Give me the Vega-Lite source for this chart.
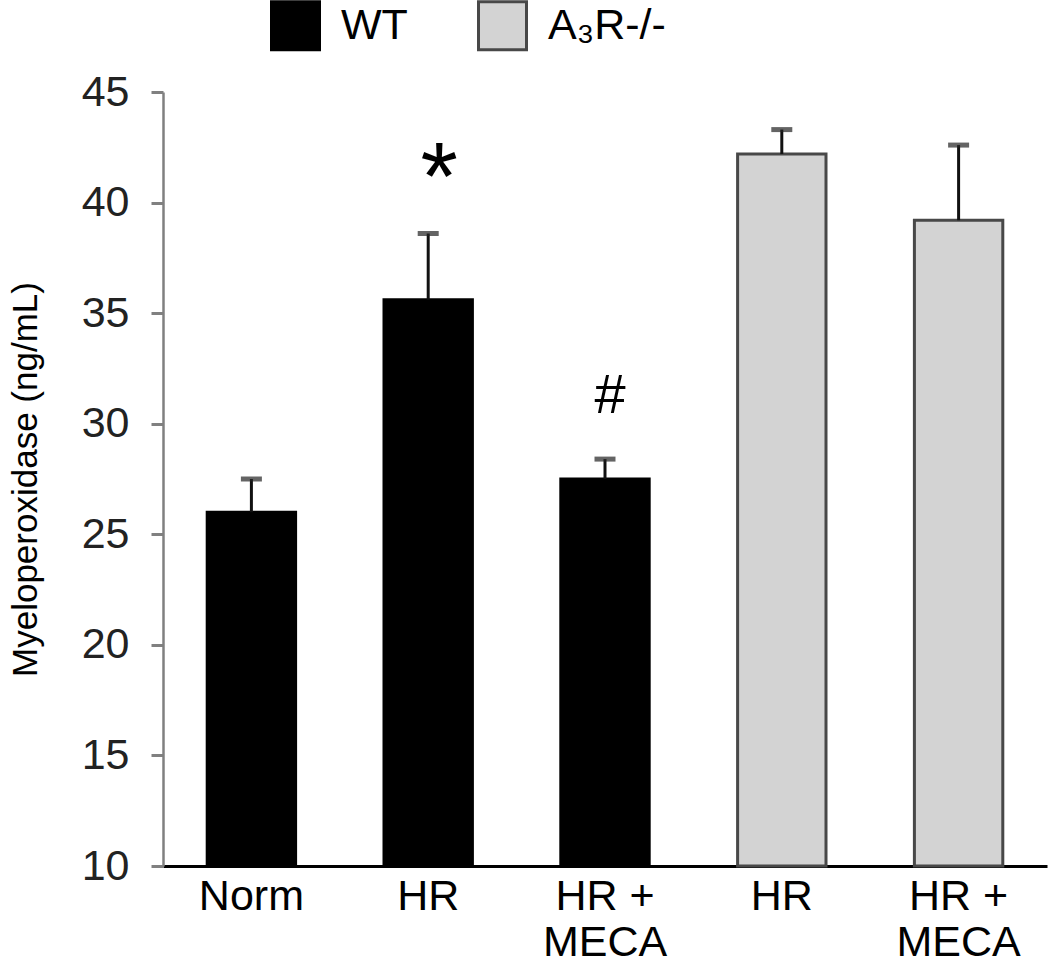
{
  "$schema": "https://vega.github.io/schema/vega-lite/v6.json",
  "width": 884,
  "height": 774,
  "autosize": {"type": "none"},
  "padding": {"left": 163, "top": 92, "right": 3, "bottom": 110},
  "background": "white",
  "config": {"view": {"stroke": null}, "font": "Liberation Sans"},
  "data": {
    "values": [
      {"id": "WT|Norm", "group": "WT", "mean": 26.0, "upper": 27.5, "sig": "", "sigY": 0},
      {"id": "WT|HR", "group": "WT", "mean": 35.6, "upper": 38.6, "sig": "*", "sigY": 39.7},
      {"id": "WT|HR + MECA", "group": "WT", "mean": 27.5, "upper": 28.4, "sig": "#", "sigY": 30.5},
      {"id": "A3R|HR", "group": "A₃R-/-", "mean": 42.2, "upper": 43.3, "sig": "", "sigY": 0},
      {"id": "A3R|HR + MECA", "group": "A₃R-/-", "mean": 39.2, "upper": 42.6, "sig": "", "sigY": 0}
    ]
  },
  "encoding": {
    "x": {
      "field": "id",
      "type": "nominal",
      "sort": null,
      "scale": {"paddingInner": 0.5, "paddingOuter": 0.25},
      "axis": {
        "title": null,
        "labelAngle": 0,
        "labelExpr": "split(datum.value, '|')[1] == 'HR + MECA' ? ['HR +', 'MECA'] : split(datum.value, '|')[1]",
        "labelFontSize": 43,
        "labelColor": "black",
        "labelPadding": 9,
        "labelLineHeight": 46,
        "ticks": false,
        "domainColor": "black",
        "domainWidth": 3
      }
    }
  },
  "layer": [
    {
      "mark": {"type": "bar", "strokeWidth": 3},
      "encoding": {
        "y": {
          "field": "mean",
          "type": "quantitative",
          "scale": {"domain": [10, 45], "nice": false, "zero": false},
          "axis": {
            "values": [10, 15, 20, 25, 30, 35, 40, 45],
            "grid": false,
            "domainColor": "#808080",
            "domainWidth": 2.5,
            "tickColor": "#808080",
            "tickWidth": 3,
            "tickSize": 12,
            "labelFontSize": 43,
            "labelPadding": 22,
            "labelColor": "#222222",
            "title": "Myeloperoxidase (ng/mL)",
            "titleFontSize": 35,
            "titleFontWeight": "normal",
            "titleColor": "black",
            "titleX": -120,
            "titleY": 387,
            "titleBaseline": "bottom"
          }
        },
        "y2": {"datum": 10},
        "fill": {
          "field": "group",
          "type": "nominal",
          "scale": {"domain": ["WT", "A₃R-/-"], "range": ["#000000", "#d3d3d3"]},
          "legend": {
            "orient": "none",
            "legendX": 107,
            "legendY": -92,
            "direction": "horizontal",
            "title": null,
            "padding": 0,
            "symbolType": "square",
            "symbolSize": 2304,
            "symbolStrokeColor": "black",
            "symbolStrokeWidth": 3,
            "labelFontSize": 43,
            "labelColor": "black",
            "labelOffset": 20,
            "columnPadding": 64
          }
        },
        "stroke": {
          "field": "group",
          "type": "nominal",
          "scale": {"domain": ["WT", "A₃R-/-"], "range": ["#000000", "#484848"]},
          "legend": null
        }
      }
    },
    {
      "mark": {"type": "rule", "strokeWidth": 3, "color": "#111111"},
      "encoding": {
        "y": {"field": "mean", "type": "quantitative"},
        "y2": {"field": "upper"}
      }
    },
    {
      "mark": {"type": "tick", "size": 21, "thickness": 5, "color": "#222222"},
      "encoding": {
        "y": {"field": "upper", "type": "quantitative"}
      }
    },
    {
      "transform": [{"filter": "datum.sig == '*'"}],
      "mark": {"type": "text", "fontSize": 96, "baseline": "alphabetic", "dx": 11, "color": "black"},
      "encoding": {
        "y": {"field": "sigY", "type": "quantitative"},
        "text": {"field": "sig"}
      }
    },
    {
      "transform": [{"filter": "datum.sig == '#'"}],
      "mark": {"type": "text", "fontSize": 56, "baseline": "alphabetic", "dx": 5, "color": "black"},
      "encoding": {
        "y": {"field": "sigY", "type": "quantitative"},
        "text": {"field": "sig"}
      }
    }
  ]
}
